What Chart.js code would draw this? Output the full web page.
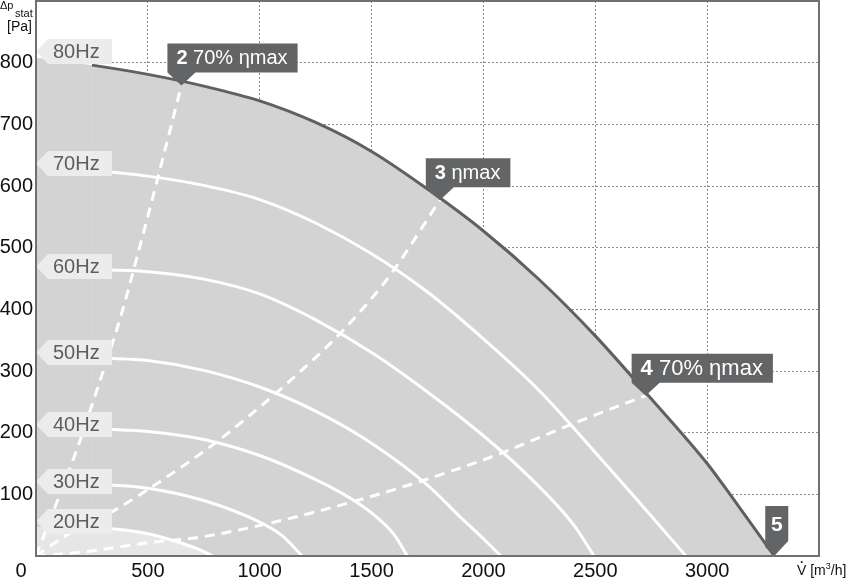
<!DOCTYPE html>
<html>
<head>
<meta charset="utf-8">
<script src="https://cdn.jsdelivr.net/npm/chart.js@4.4.1/dist/chart.umd.min.js"></script>
<style>
  html, body { margin: 0; padding: 0; background: #fff; }
  #wrap { width: 847px; height: 582px; position: relative; }
</style>
</head>
<body>
<div id="wrap"><canvas id="chart"></canvas></div>
<script>
const FONT = '"Liberation Sans", Arial, sans-serif';

// axes
const flowTicks = [0, 500, 1000, 1500, 2000, 2500, 3000, 3500];
const pressTicks = [0, 100, 200, 300, 400, 500, 600, 700, 800, 900];

// 80 Hz = upper limit of the field
const maxFlow  = [0, 250, 500, 750, 1000, 1250, 1500, 1750, 2000, 2250, 2500, 2750, 3000, 3100, 3300];
const maxPress = [808, 796, 781, 762, 738, 703, 656, 595, 527, 448, 357, 255, 150, 101, 0];

// speed curves
const hz70Flow  = [300, 500, 750, 1000, 1250, 1500, 1750, 2000, 2250, 2500, 2750, 2905];
const hz70Press = [624, 616, 601, 578, 540, 490, 428, 352, 268, 168, 65, 0];
const hz60Flow  = [300, 500, 750, 1000, 1250, 1500, 1750, 2000, 2200, 2400, 2495];
const hz60Press = [464, 461, 449, 425, 383, 330, 266, 195, 130, 52, 0];
const hz50Flow  = [300, 500, 750, 1000, 1250, 1500, 1750, 1900, 2000, 2078];
const hz50Press = [321, 317, 301, 274, 235, 183, 115, 62, 28, 0];
const hz40Flow  = [300, 500, 750, 1000, 1250, 1400, 1500, 1600, 1660];
const hz40Press = [206, 202, 189, 163, 124, 95, 70, 35, 0];
const hz30Flow  = [300, 500, 750, 1000, 1100, 1190];
const hz30Press = [116, 110, 90, 55, 33, 0];
const hz20Flow  = [300, 490, 624, 720, 790];
const hz20Press = [46, 37, 24, 12, 0];

// efficiency lines
const eta2Flow  = [0, 92, 182, 284, 376, 470, 555, 650];
const eta2Press = [0, 86, 172, 282, 385, 510, 628, 763];
const eta3Flow  = [0, 137, 346, 584, 778, 1002, 1181, 1330, 1494, 1598, 1805];
const eta3Press = [0, 34, 73, 128, 177, 242, 299, 350, 415, 463, 577];
const eta4Flow  = [0, 224, 490, 740, 1043, 1494, 1851, 2060, 2403, 2725];
const eta4Press = [0, 7, 21, 31, 53, 96, 137, 164, 215, 260];

// tags
const speedNames = ['80Hz', '70Hz', '60Hz', '50Hz', '40Hz', '30Hz', '20Hz'];
const speedTagPress = [819, 637, 471, 331, 214, 122, 56];

const markNo = ['2', '3', '4', '5'];
const markText = ['70% ηmax', 'ηmax', '70% ηmax', ''];
const markFlow = [650, 1805, 2725, 3300];
const markPress = [763, 577, 260, 0];
const markFont = [20, 20, 22, 21];

function pts(xs, ys) {
  return xs.map((v, i) => ({ x: v, y: ys[i] }));
}

function whiteLine(xs, ys) {
  return {
    data: pts(xs, ys),
    borderColor: '#ffffff',
    borderWidth: 3,
    pointRadius: 0,
    fill: false,
    cubicInterpolationMode: 'monotone',
    order: 2
  };
}

function dashLine(xs, ys) {
  const d = whiteLine(xs, ys);
  d.borderDash = [10, 7];
  d.order = 1;
  return d;
}

// tags, callouts, frame and axis titles
const decor = {
  id: 'decor',
  afterDraw(chart) {
    const { ctx, chartArea: a, scales: { x, y } } = chart;
    ctx.save();

    // speed tags on the left
    speedNames.forEach((t, i) => {
      const cy = Math.round(y.getPixelForValue(speedTagPress[i])) + 0.5;
      const l = a.left, r = a.left + 76, h = 25;
      ctx.fillStyle = '#ececec';
      ctx.beginPath();
      ctx.moveTo(l, cy);
      ctx.lineTo(l + 12, cy - h / 2);
      ctx.lineTo(r, cy - h / 2);
      ctx.lineTo(r, cy + h / 2);
      ctx.lineTo(l + 12, cy + h / 2);
      ctx.closePath();
      ctx.fill();
      ctx.fillStyle = '#5e5e5e';
      ctx.font = '20px ' + FONT;
      ctx.textAlign = 'left';
      ctx.textBaseline = 'middle';
      ctx.fillText(t, l + 17, cy + 1);
    });

    // callouts
    markNo.forEach((n, i) => {
      const tx = x.getPixelForValue(markFlow[i]);
      const ty = y.getPixelForValue(markPress[i]);
      const fs = markFont[i];
      ctx.fillStyle = '#636466';
      if (markText[i] === '') {
        const l = tx - 9, r = tx + 14, top = ty - 50;
        ctx.beginPath();
        ctx.moveTo(l, top);
        ctx.lineTo(r, top);
        ctx.lineTo(r, ty - 15);
        ctx.lineTo(tx, ty);
        ctx.lineTo(l, ty - 9);
        ctx.closePath();
        ctx.fill();
        ctx.fillStyle = '#ffffff';
        ctx.font = 'bold ' + fs + 'px ' + FONT;
        ctx.textAlign = 'center';
        ctx.textBaseline = 'middle';
        ctx.fillText(n, (l + r) / 2, top + 19);
        return;
      }
      ctx.font = 'bold ' + fs + 'px ' + FONT;
      const wN = ctx.measureText(n + ' ').width;
      ctx.font = fs + 'px ' + FONT;
      const wT = ctx.measureText(markText[i]).width;
      const l = tx - 14, r = l + 9 + wN + wT + 10;
      const b = ty - 13, top = b - 29;
      ctx.beginPath();
      ctx.moveTo(l, top);
      ctx.lineTo(r, top);
      ctx.lineTo(r, b);
      ctx.lineTo(l + 28, b);
      ctx.lineTo(tx, ty);
      ctx.lineTo(l, b);
      ctx.closePath();
      ctx.fill();
      ctx.fillStyle = '#ffffff';
      ctx.textAlign = 'left';
      ctx.textBaseline = 'middle';
      ctx.font = 'bold ' + fs + 'px ' + FONT;
      ctx.fillText(n + ' ', l + 9, (top + b) / 2 + 1);
      ctx.font = fs + 'px ' + FONT;
      ctx.fillText(markText[i], l + 9 + wN, (top + b) / 2 + 1);
    });

    // frame
    ctx.strokeStyle = '#707070';
    ctx.lineWidth = 2;
    ctx.strokeRect(a.left, a.top, a.right - a.left, a.bottom - a.top);

    // corner zero
    ctx.fillStyle = '#111';
    ctx.font = '20px ' + FONT;
    ctx.textAlign = 'center';
    ctx.textBaseline = 'middle';
    ctx.fillText('0', 21, 571);

    // y title
    ctx.textAlign = 'left';
    ctx.textBaseline = 'alphabetic';
    ctx.font = '11px ' + FONT;
    ctx.fillText('Δp', 0, 9);
    ctx.fillText('stat', 15, 17);
    ctx.font = '14px ' + FONT;
    ctx.fillText('[Pa]', 7, 31);

    // x title
    ctx.font = '14px ' + FONT;
    let cx = 797;
    const by = 575;
    ctx.fillText('V', cx, by);
    ctx.beginPath();
    ctx.arc(cx + 4.7, by - 13, 1, 0, Math.PI * 2);
    ctx.fill();
    cx += ctx.measureText('V [m').width;
    ctx.fillText(' [m', cx - ctx.measureText(' [m').width, by);
    ctx.font = '9px ' + FONT;
    ctx.fillText('3', cx, by - 6);
    cx += ctx.measureText('3').width;
    ctx.font = '14px ' + FONT;
    ctx.fillText('/h]', cx, by);

    ctx.restore();
  }
};

new Chart(document.getElementById('chart'), {
  type: 'line',
  data: {
    datasets: [
      {
        data: pts(maxFlow, maxPress),
        borderColor: '#5f6062',
        borderWidth: 3,
        backgroundColor: '#d3d3d3',
        fill: 'origin',
        pointRadius: 0,
        cubicInterpolationMode: 'monotone',
        // first piece sits under the 80Hz tag
        segment: { borderColor: c => c.p0DataIndex === 0 ? 'rgba(0,0,0,0)' : undefined },
        order: 4
      },
      {
        data: pts([0].concat(hz20Flow), [hz20Press[0] + 1].concat(hz20Press)),
        borderColor: 'rgba(0,0,0,0)',
        borderWidth: 0,
        backgroundColor: '#e6e6e6',
        fill: 'origin',
        pointRadius: 0,
        cubicInterpolationMode: 'monotone',
        order: 3
      },
      whiteLine(hz70Flow, hz70Press),
      whiteLine(hz60Flow, hz60Press),
      whiteLine(hz50Flow, hz50Press),
      whiteLine(hz40Flow, hz40Press),
      whiteLine(hz30Flow, hz30Press),
      whiteLine(hz20Flow, hz20Press),
      dashLine(eta2Flow, eta2Press),
      dashLine(eta3Flow, eta3Press),
      dashLine(eta4Flow, eta4Press)
    ]
  },
  options: {
    responsive: true,
    maintainAspectRatio: false,
    animation: false,
    devicePixelRatio: 1,
    events: [],
    layout: { padding: { left: 0, right: 28, top: 1, bottom: 0 } },
    plugins: { legend: { display: false }, tooltip: { enabled: false } },
    scales: {
      x: {
        type: 'linear',
        min: 0,
        max: 3500,
        z: 1,
        afterBuildTicks: s => { s.ticks = flowTicks.map(v => ({ value: v })); },
        afterFit: s => { s.height = 26; s.paddingLeft = 0; s.paddingRight = 0; },
        ticks: {
          padding: 3,
          color: '#111',
          maxRotation: 0,
          autoSkip: false,
          font: { family: FONT, size: 20 },
          callback: v => (v === 0 || v === 3500) ? '' : String(v)
        },
        grid: { color: '#8a8a8a', lineWidth: 1, drawTicks: false },
        border: { display: false, dash: [2, 2] }
      },
      y: {
        type: 'linear',
        min: 0,
        max: 900,
        z: 1,
        afterBuildTicks: s => { s.ticks = pressTicks.map(v => ({ value: v })); },
        afterFit: s => { s.width = 36; s.paddingTop = 0; s.paddingBottom = 0; },
        ticks: {
          padding: 3,
          color: '#111',
          autoSkip: false,
          font: { family: FONT, size: 20 },
          callback: v => (v === 0 || v === 900) ? '' : String(v)
        },
        grid: { color: '#8a8a8a', lineWidth: 1, drawTicks: false },
        border: { display: false, dash: [2, 2] }
      }
    }
  },
  plugins: [decor]
});
</script>
</body>
</html>
